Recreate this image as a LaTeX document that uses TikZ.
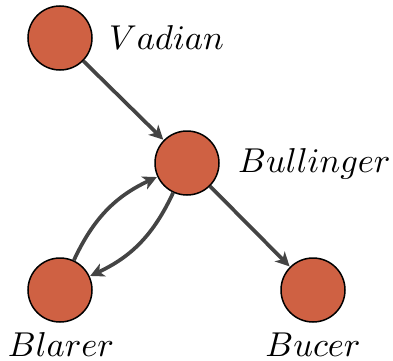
\documentclass[tikz,border=0pt]{standalone}
\usetikzlibrary{arrows.meta}
\definecolor{nodefill}{RGB}{207,97,67}
\definecolor{edgegray}{RGB}{68,68,68}
\tikzset{
  person/.style={circle, draw=black, line width=1.5pt, fill=nodefill, minimum size=64pt, inner sep=0pt},
  namelabel/.style={inner sep=0pt},
  link/.style={draw=edgegray, line width=3.7pt, -{Stealth[length=14pt,width=14pt,inset=4pt]}, shorten >=0.5pt}
}
\newcommand{\nm}[1]{\scalebox{3.45}{$#1$}}
\begin{document}
\begin{tikzpicture}[x=1pt,y=1pt]
\useasboundingbox (0,0) rectangle (393,360);
\node[person] (vadian) at (60,322) {};
\node[person] (bullinger) at (187,197) {};
\node[person] (blarer) at (60,70) {};
\node[person] (bucer) at (313,70) {};
\node[namelabel, anchor=base west] (lvadian) at (109,311) {\nm{Vadian}};
\node[namelabel, anchor=base west] (lbullinger) at (238,188) {\nm{Bullinger}};
\node[namelabel, anchor=base] (lblarer) at (61,3.5) {\nm{Blarer}};
\node[namelabel, anchor=base] (lbucer) at (313,3.5) {\nm{Bucer}};
\draw[link] (vadian) -- (bullinger);
\draw[link] (bullinger) -- (bucer);
\draw[link] (blarer) to[bend left=20] (bullinger);
\draw[link] (bullinger) to[bend left=20] (blarer);
\end{tikzpicture}
\end{document}
